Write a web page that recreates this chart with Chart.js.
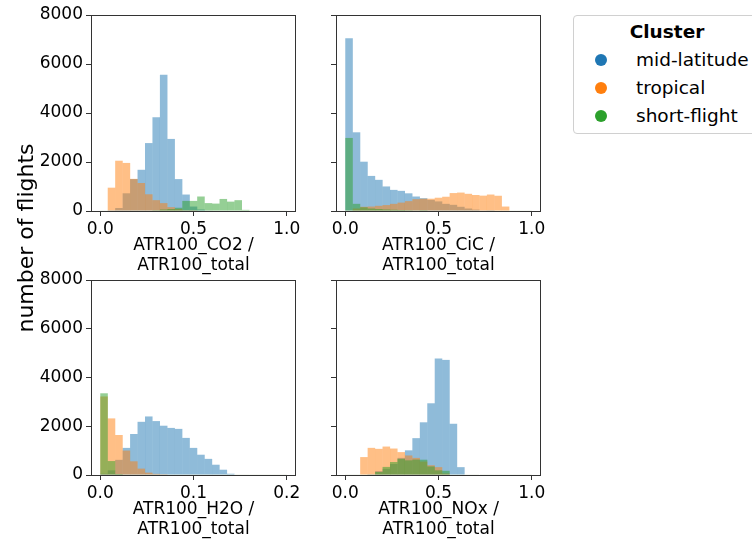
<!DOCTYPE html>
<html>
<head>
<meta charset="utf-8">
<script src="https://cdn.jsdelivr.net/npm/chart.js@4.4.0/dist/chart.umd.min.js"></script>
<style>
  body { margin: 0; width: 752px; height: 544px; overflow: hidden; background: #fff; position: relative; font-family: 'DejaVu Sans'; }
  canvas { position: absolute; }
  #ylabel { position: absolute; left: -124px; top: 225px; width: 300px; height: 26px; line-height: 26px;
            text-align: center; font-size: 22px; transform: rotate(-90deg); }
  #legend { position: absolute; left: 573px; top: 15px; width: 186px; height: 117px; border: 1px solid #d0d0d0;
            border-radius: 4px; font-size: 18.5px; }
  #legend .title { position: absolute; left: 0; width: 186px; top: 5px; text-align: center; font-weight: bold; }
  #legend .row { position: absolute; left: 0; height: 24px; line-height: 24px; }
  #legend .dot { position: absolute; left: 21px; top: 6px; width: 12px; height: 12px; border-radius: 6px; }
  #legend .txt { position: absolute; left: 62px; white-space: nowrap; }
</style>
</head>
<body>
<canvas id="co2" width="316" height="280" style="left:0;top:0"></canvas>
<canvas id="cic" width="240" height="280" style="left:316px;top:0"></canvas>
<canvas id="h2o" width="316" height="279" style="left:0;top:265px"></canvas>
<canvas id="nox" width="240" height="279" style="left:316px;top:265px"></canvas>
<div id="ylabel">number of flights</div>
<div id="legend">
  <div class="title">Cluster</div>
  <div class="row" style="top:32px"><span class="dot" style="background:#1f77b4"></span><span class="txt">mid-latitude</span></div>
  <div class="row" style="top:60px"><span class="dot" style="background:#ff7f0e"></span><span class="txt">tropical</span></div>
  <div class="row" style="top:88px"><span class="dot" style="background:#2ca02c"></span><span class="txt">short-flight</span></div>
</div>
<script>
// histogram bins (25 bins), centres
const binCenters = [0.02, 0.06, 0.10, 0.14, 0.18, 0.22, 0.26, 0.30, 0.34, 0.38, 0.42, 0.46, 0.50,
                    0.54, 0.58, 0.62, 0.66, 0.70, 0.74, 0.78, 0.82, 0.86, 0.90, 0.94, 0.98];
const h2oCenters = [0.004, 0.012, 0.020, 0.028, 0.036, 0.044, 0.052, 0.060, 0.068, 0.076, 0.084, 0.092, 0.100,
                    0.108, 0.116, 0.124, 0.132, 0.140, 0.148, 0.156, 0.164, 0.172, 0.180, 0.188, 0.196];

const xTicks = [0, 0.5, 1.0];
const h2oTicks = [0, 0.1, 0.2];
const yTicks = [0, 2000, 4000, 6000, 8000];

const clusters = ['mid-latitude', 'tropical', 'short-flight'];
const colors = ['rgba(31,119,180,0.5)', 'rgba(255,127,14,0.5)', 'rgba(44,160,44,0.5)'];

// CO2 / total
const co2Mid   = [0, 30, 120, 720, 1300, 1680, 2770, 3820, 5560, 2940, 1300, 670, 180, 60, 20, 0, 0, 0, 0, 0, 0, 0, 0, 0, 0];
const co2Trop  = [0, 950, 2050, 1960, 1310, 1140, 680, 440, 320, 155, 80, 30, 10, 0, 0, 0, 0, 0, 0, 0, 0, 0, 0, 0, 0];
const co2Short = [0, 0, 0, 0, 0, 0, 0, 30, 60, 80, 130, 410, 410, 590, 320, 300, 490, 380, 440, 45, 0, 0, 0, 0, 0];

// CiC / total
const cicMid   = [7050, 3210, 2010, 1430, 1270, 1000, 860, 820, 720, 590, 520, 450, 390, 290, 250, 170, 100, 55, 25, 10, 0, 0, 0, 0, 0];
const cicTrop  = [20, 100, 170, 180, 210, 240, 290, 340, 400, 480, 500, 500, 540, 580, 730, 750, 700, 650, 625, 670, 620, 180, 0, 0, 0];
const cicShort = [2980, 290, 150, 100, 80, 60, 50, 40, 30, 20, 10, 0, 0, 0, 0, 0, 0, 0, 0, 0, 0, 0, 0, 0, 0];

// H2O / total
const h2oMid   = [50, 190, 620, 1110, 1680, 2180, 2400, 2210, 2020, 1930, 1890, 1520, 1110, 830, 660, 420, 215, 50, 0, 0, 0, 0, 0, 0, 0];
const h2oTrop  = [3220, 2320, 1640, 1000, 560, 260, 95, 45, 10, 0, 0, 0, 0, 0, 0, 0, 0, 0, 0, 0, 0, 0, 0, 0, 0];
const h2oShort = [3350, 570, 40, 0, 0, 0, 0, 0, 0, 0, 0, 0, 0, 0, 0, 0, 0, 0, 0, 0, 0, 0, 0, 0, 0];

// NOx / total
const noxMid   = [0, 0, 0, 30, 160, 250, 450, 700, 1010, 1510, 2160, 2940, 4780, 4720, 2100, 320, 0, 0, 0, 0, 0, 0, 0, 0, 0];
const noxTrop  = [0, 0, 733, 1112, 1071, 1165, 1084, 937, 800, 700, 550, 400, 320, 60, 0, 0, 0, 0, 0, 0, 0, 0, 0, 0, 0];
const noxShort = [0, 0, 0, 20, 120, 330, 530, 660, 600, 630, 625, 350, 190, 170, 0, 0, 0, 0, 0, 0, 0, 0, 0, 0, 0];

Chart.defaults.font.family = 'DejaVu Sans';
Chart.defaults.font.size = 17;
Chart.defaults.color = '#000';

// matplotlib draws all four spines
const frame = {
  id: 'frame',
  afterDraw(chart) {
    const a = chart.chartArea, c = chart.ctx;
    c.save();
    c.strokeStyle = '#333';
    c.lineWidth = 1;
    c.strokeRect(a.left + 0.5, a.top + 0.5, a.right - a.left - 1, a.bottom - a.top);
    c.restore();
  }
};

function hist(id, centers, series, xmin, xmax, ticks, title, showY, yWidth, padRight) {
  const datasets = series.map((vals, k) => ({
    label: clusters[k],
    data: vals.map((v, i) => ({ x: centers[i], y: v })),
    backgroundColor: colors[k],
    borderWidth: 0,
    inflateAmount: 0.05,   // softens the antialiasing seams between bins
    grouped: false,
    barPercentage: 1,
    categoryPercentage: 1,
    order: 3 - k
  }));
  return new Chart(document.getElementById(id), {
    type: 'bar',
    data: { datasets: datasets },
    plugins: [frame],
    options: {
      responsive: false,
      animation: false,
      layout: { padding: { top: 15, right: padRight, left: 0, bottom: 0 } },
      plugins: { legend: { display: false }, tooltip: { enabled: false } },
      scales: {
        x: {
          type: 'linear', min: xmin, max: xmax, offset: false,
          afterBuildTicks: s => { s.ticks = ticks.map(v => ({ value: v })); },
          afterFit: s => { s.height = 69; },
          grid: { drawOnChartArea: false, offset: false, tickLength: 5, color: '#333' },
          border: { display: false },
          ticks: { padding: 3, maxRotation: 0, callback: v => v.toFixed(1) },
          title: { display: true, text: title, font: { size: 17, lineHeight: 1.2 }, padding: { top: 0, bottom: 4 } }
        },
        y: {
          min: 0, max: 8000,
          afterBuildTicks: s => { s.ticks = yTicks.map(v => ({ value: v })); },
          afterFit: s => { s.width = yWidth; },
          grid: { drawOnChartArea: false, tickLength: 5, color: '#333' },
          border: { display: false },
          ticks: { display: showY, padding: 3, callback: v => String(v) }
        }
      }
    }
  });
}

hist('co2', binCenters, [co2Mid, co2Trop, co2Short], -0.05, 1.05, xTicks, ['ATR100_CO2 /', 'ATR100_total'], true, 91, 20);
hist('cic', binCenters, [cicMid, cicTrop, cicShort], -0.05, 1.05, xTicks, ['ATR100_CiC /', 'ATR100_total'], false, 20, 15);
hist('h2o', h2oCenters, [h2oMid, h2oTrop, h2oShort], -0.01, 0.21, h2oTicks, ['ATR100_H2O /', 'ATR100_total'], true, 91, 20);
hist('nox', binCenters, [noxMid, noxTrop, noxShort], -0.05, 1.05, xTicks, ['ATR100_NOx /', 'ATR100_total'], false, 20, 15);
</script>
</body>
</html>
